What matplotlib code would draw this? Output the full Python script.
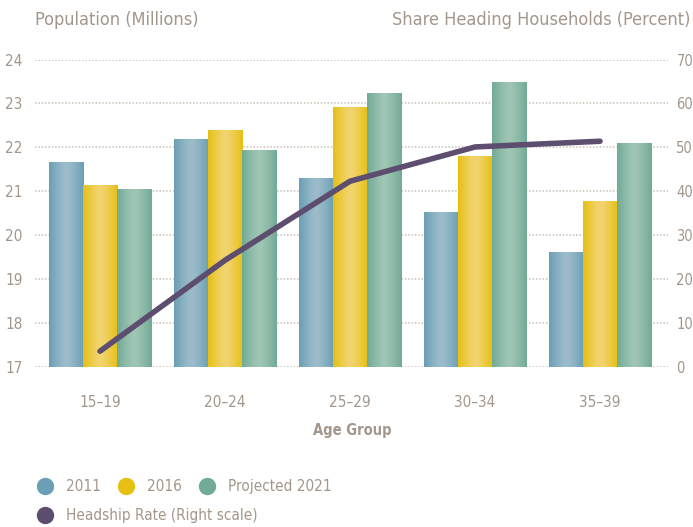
import numpy as np
import matplotlib.pyplot as plt
from matplotlib.colors import LinearSegmentedColormap
from matplotlib.lines import Line2D

# data
age_groups = ['15–19', '20–24', '25–29', '30–34', '35–39']
pop_2011 = [21.66, 22.18, 21.30, 20.52, 19.61]
pop_2016 = [21.14, 22.39, 22.91, 21.80, 20.77]
pop_2021 = [21.05, 21.95, 23.23, 23.50, 22.11]
headship_rate = [3.6, 24.3, 42.3, 50.1, 51.4]

series_names = ['2011', '2016', 'Projected 2021']
# (edge colour, centre colour) for each bar gradient
bar_colors = [('#6a9fb6', '#9dbccb'), ('#e6c012', '#f2d470'), ('#71aa96', '#a0c6b4')]
line_color = '#5d4e70'
text_color = '#a3968a'
grid_color = '#c9c0b6'

plt.rcParams['font.family'] = ['DejaVu Sans']
plt.rcParams['font.stretch'] = 'condensed'

fig = plt.figure(figsize=(6.93, 5.27), dpi=100)
ax = fig.add_axes([0.0505, 0.3036, 0.9135, 0.5834])
ax2 = ax.twinx()

x = np.arange(len(age_groups))
width = 0.272

# dark at the edges, light in the middle
grad = 1 - np.abs(np.linspace(-1, 1, 64)) ** 1.3
grad = grad.reshape(1, -1)

for i, vals in enumerate([pop_2011, pop_2016, pop_2021]):
    pos = x + (i - 1) * width
    bars = ax.bar(pos, np.array(vals) - 17, width, bottom=17, color=bar_colors[i][0],
                  linewidth=0, zorder=2)
    cmap = LinearSegmentedColormap.from_list('g%d' % i, bar_colors[i])
    for b in bars:
        bx, by = b.get_x(), b.get_y()
        im = ax.imshow(grad, cmap=cmap, aspect='auto', zorder=2.1,
                       extent=[bx, bx + b.get_width(), by, by + b.get_height()],
                       interpolation='bilinear')
        im.set_clip_path(b)

ax.set_xlim(-0.52, 4.544)
ax.set_ylim(17, 24)
ax2.set_ylim(0, 70)
ax.set_yticks(range(17, 25))
ax2.set_yticks(range(0, 71, 10))
for y in range(17, 25):
    ax.axhline(y, color=grid_color, lw=1.1, ls=(0, (1, 1.2)), zorder=1)

ax2.plot(x, headship_rate, color=line_color, lw=4, solid_capstyle='round',
         solid_joinstyle='round', zorder=5)

for a in (ax, ax2):
    for s in a.spines.values():
        s.set_visible(False)
    a.tick_params(length=0, colors=text_color, labelsize=11)
ax.tick_params(axis='y', pad=9)
ax2.tick_params(axis='y', pad=6, labelsize=10.5)
ax.set_xticks(x)
ax.set_xticklabels(age_groups)
ax.tick_params(axis='x', pad=20, labelsize=11)
ax2.patch.set_visible(False)

fig.text(0.0505, 0.962, 'Population (Millions)', color=text_color, fontsize=13,
         ha='left', va='center')
fig.text(0.996, 0.962, 'Share Heading Households (Percent)', color=text_color,
         fontsize=13, ha='right', va='center')
fig.text(0.508, 0.183, 'Age Group', color=text_color, fontsize=10.5,
         fontweight='bold', ha='center', va='center')

handles = [Line2D([], [], ls='none', marker='o', ms=12.5, mfc=c[0], mec='none')
           for c in bar_colors]
fig.legend(handles, series_names, loc='center left', bbox_to_anchor=(0.032, 0.076),
           ncol=3, frameon=False, fontsize=11, handletextpad=0.8,
           columnspacing=1.0, handlelength=1.2, labelcolor=text_color)
line_handle = Line2D([], [], ls='none', marker='o', ms=12.5, mfc=line_color, mec='none')
fig.legend([line_handle], ['Headship Rate (Right scale)'], loc='center left',
           bbox_to_anchor=(0.032, 0.022), frameon=False, fontsize=11,
           handletextpad=0.8, handlelength=1.2, labelcolor=text_color)

fig.savefig('out.png', dpi=100)
